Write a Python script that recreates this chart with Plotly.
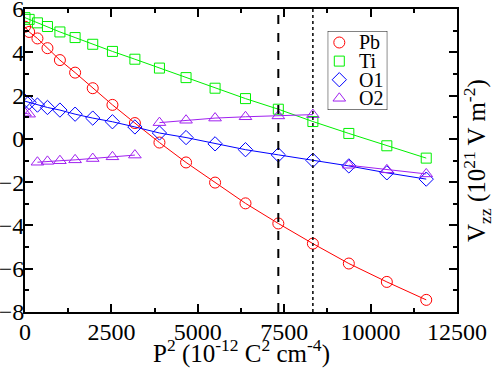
import plotly.graph_objects as go

# P^2 values (10^-12 C^2 cm^-4) shared by every species
p2 = [0, 120, 360, 650, 1010, 1450, 1960, 2530, 3180, 3890,
      4660, 5500, 6380, 7330, 8330, 9370, 10470, 11610]

# Vzz (10^21 V m^-2)
vzz_pb = [5.18, 4.94, 4.64, 4.19, 3.64, 3.06, 2.34, 1.57, 0.73, -0.17,
          -1.09, -2.02, -2.98, -3.91, -4.84, -5.76, -6.61, -7.44]
vzz_ti = [5.60, 5.52, 5.36, 5.19, 4.94, 4.68, 4.37, 4.04, 3.68, 3.27,
          2.83, 2.34, 1.86, 1.37, 0.80, 0.25, -0.32, -0.89]
vzz_o1 = [1.74, 1.68, 1.56, 1.45, 1.33, 1.14, 0.96, 0.79, 0.55, 0.27,
          0.06, -0.23, -0.50, -0.74, -0.99, -1.25, -1.57, -1.86]
vzz_o2 = [1.19, 1.14, -1.08, -1.04, -1.01, -0.97, -0.91, -0.83, -0.75, 0.75,
          0.86, 0.96, 1.02, 1.06, 1.12, -1.22, -1.43, -1.62]
# O2 changes sign, so its line is drawn in separate pieces (index ranges)
o2_pieces = [(0, 2), (2, 9), (9, 15), (15, 18)]

p2_dashed = 7330
p2_dotted = 8330

serif = "Liberation Serif"

series = [
    ("Pb", vzz_pb, "#ff0000", "circle-open", 11),
    ("Ti", vzz_ti, "#00f000", "square-open", 10),
    ("O1", vzz_o1, "#0000ff", "diamond-open", 11),
    ("O2", vzz_o2, "#a020f0", "triangle-up-open", 11),
]

fig = go.Figure()

for name, vals, color, symbol, size in series:
    if name == "O2":
        lx, ly = [], []
        for a, b in o2_pieces:
            lx += p2[a:b] + [None]
            ly += vals[a:b] + [None]
    else:
        lx, ly = p2, vals
    fig.add_trace(go.Scatter(x=lx, y=ly, mode="lines", showlegend=False,
                             line=dict(color=color, width=1), hoverinfo="skip"))
    fig.add_trace(go.Scatter(
        x=p2, y=vals, mode="markers", name=name, showlegend=False,
        marker=dict(symbol=symbol, size=size, color=color,
                    line=dict(color=color, width=1)),
    ))

fig.add_vline(x=p2_dashed, line=dict(color="black", width=2, dash="dash"))
fig.add_vline(x=p2_dotted, line=dict(color="black", width=1.5, dash="dot"))

# hand-made legend box in a small overlay axis (units are pixels)
leg_w, leg_h = 59.6, 79
fig.add_shape(type="rect", xref="x2", yref="y2", x0=0, x1=leg_w, y0=0, y1=leg_h,
              line=dict(color="black", width=1), fillcolor="white", layer="below")
for i, (name, vals, color, symbol, size) in enumerate(series):
    row_y = 11.5 + 18.6 * i
    fig.add_trace(go.Scatter(
        x=[11.6], y=[row_y], xaxis="x2", yaxis="y2", mode="markers",
        showlegend=False, hoverinfo="skip", cliponaxis=False,
        marker=dict(symbol=symbol, size=size, color=color,
                    line=dict(color=color, width=1)),
    ))
    fig.add_annotation(text=name, xref="x2", yref="y2", x=29.5, y=row_y,
                       xanchor="left", yanchor="middle", showarrow=False,
                       font=dict(family=serif, size=20, color="black"))

axis_common = dict(
    showline=True, linecolor="black", linewidth=2, mirror="allticks",
    ticks="inside", ticklen=8, tickwidth=1.5, tickcolor="black",
    showgrid=False, zeroline=False, automargin=False,
    ticklabeloverflow="allow",
    tickfont=dict(family=serif, size=24, color="black"),
)

fig.update_layout(
    xaxis=dict(range=[0, 12500], dtick=2500, tick0=0, tickformat="d",
               ticklabelstandoff=-3,
               minor=dict(dtick=1250, ticks="inside", ticklen=4,
                          tickcolor="black", tickwidth=1.5),
               **axis_common),
    yaxis=dict(range=[-8, 6], dtick=2, tick0=0, ticklabelstandoff=-6,
               minor=dict(dtick=1, ticks="inside", ticklen=4,
                          tickcolor="black", tickwidth=1.5),
               **axis_common),
    xaxis2=dict(domain=[0.7007, 0.8387], range=[0, leg_w], anchor="y2",
                visible=False, fixedrange=True),
    yaxis2=dict(domain=[0.6667, 0.9274], range=[leg_h, 0], anchor="x2",
                visible=False, fixedrange=True),
)

fig.add_annotation(
    text="P<sup>2</sup> (10<sup>-12</sup> C<sup>2</sup> cm<sup>-4</sup>)",
    xref="paper", yref="paper", x=0.5, y=0, yshift=-58,
    xanchor="center", yanchor="bottom", showarrow=False,
    font=dict(family=serif, size=25, color="black"),
)
fig.add_annotation(
    text="V<sub>zz</sub> (10<sup>21</sup> V m<sup>-2</sup>)",
    xref="paper", yref="paper", x=1.045, y=0.5, textangle=-90,
    xanchor="center", yanchor="middle", showarrow=False,
    font=dict(family=serif, size=25, color="black"),
)

fig.update_layout(
    template="none",
    width=498, height=370,
    margin=dict(l=25, r=41, t=9, b=58),
    font=dict(family=serif, color="black"),
    plot_bgcolor="white", paper_bgcolor="white",
    showlegend=False,
)

# the page's default 8px body margin would shift the whole chart
fig.write_html("out.html", config={"displayModeBar": False},
               post_script="document.body.style.margin='0';")
